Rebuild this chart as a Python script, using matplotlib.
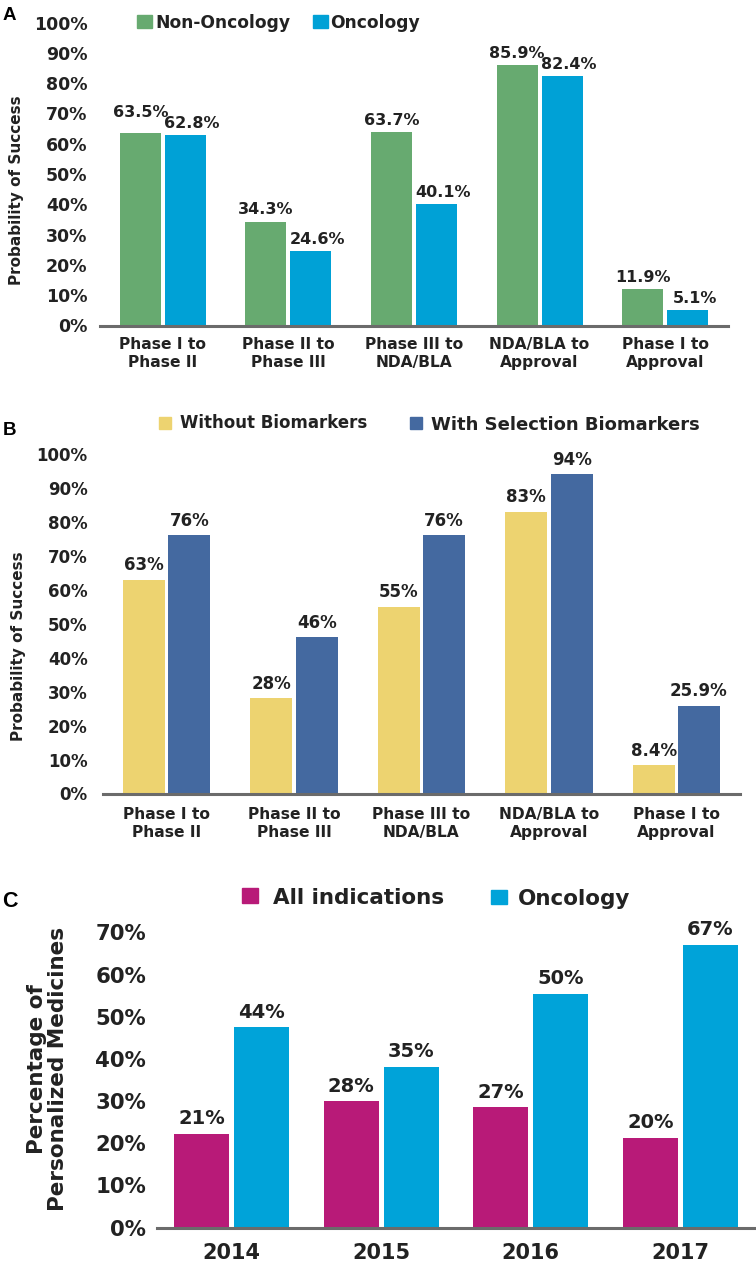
import numpy as np
import matplotlib
matplotlib.use("Agg")
import matplotlib.pyplot as plt
from matplotlib.patches import Rectangle

# panel A
phases = ["Phase I to\nPhase II", "Phase II to\nPhase III", "Phase III to\nNDA/BLA",
          "NDA/BLA to\nApproval", "Phase I to\nApproval"]
non_oncology = [63.5, 34.3, 63.7, 85.9, 11.9]
oncology = [62.8, 24.6, 40.1, 82.4, 5.1]

# panel B
without_bm = [63, 28, 55, 83, 8.4]
with_bm = [76, 46, 76, 94, 25.9]
without_bm_labels = ["63%", "28%", "55%", "83%", "8.4%"]
with_bm_labels = ["76%", "46%", "76%", "94%", "25.9%"]

# panel C (bar heights as drawn, labels as printed)
years = ["2014", "2015", "2016", "2017"]
all_ind = [22.2, 29.9, 28.5, 21.2]
onc_pm = [47.5, 38.2, 55.4, 67.0]
all_ind_labels = ["21%", "28%", "27%", "20%"]
onc_pm_labels = ["44%", "35%", "50%", "67%"]

GREEN, BLUE = "#67aa70", "#00a1d6"
YELLOW, NAVY = "#edd370", "#4469a0"
MAGENTA, CYAN = "#b81a78", "#00a3d9"
TXT = "#222222"

plt.rcParams["font.family"] = "DejaVu Sans"
plt.rcParams["font.weight"] = "bold"

W, H = 756, 1269
fig = plt.figure(figsize=(W / 100, H / 100), dpi=100)


def box(left, top, right, bottom):
    return [left / W, 1 - bottom / H, (right - left) / W, (bottom - top) / H]


def px(x, y):
    return x / W, 1 - y / H


def style(ax, ymax, step, ysize, ypad, xsize, xpad, ncat):
    for s in ["top", "right", "left"]:
        ax.spines[s].set_visible(False)
    ax.spines["bottom"].set_color("#6b6b6b")
    ax.spines["bottom"].set_linewidth(2.2)
    ax.set_ylim(0, ymax)
    ax.set_xlim(-0.5, ncat - 0.5)
    ticks = list(range(0, ymax + 1, step))
    ax.set_yticks(ticks)
    ax.set_yticklabels([f"{t}%" for t in ticks])
    ax.tick_params(axis="y", length=0, pad=ypad, labelsize=ysize, labelcolor=TXT)
    ax.tick_params(axis="x", length=0, pad=xpad, labelsize=xsize, labelcolor=TXT)
    ax.patch.set_visible(False)


def labels(ax, xs, hs, texts, size, dx=0, dy=5.5):
    for x, h, t in zip(xs, hs, texts):
        ax.annotate(t, (x, h), xytext=(dx, dy), textcoords="offset points",
                    ha="center", va="baseline", fontsize=size, color=TXT,
                    fontweight="bold")


def legend_item(x, y_top, w, h, color, text, tx, baseline, size):
    fig.add_artist(Rectangle(px(x, y_top + h), w / W, h / H, color=color,
                             transform=fig.transFigure))
    fig.text(*px(tx, baseline), text, fontsize=size, color=TXT,
             ha="left", va="baseline", fontweight="bold")


# ---- A ----
ax = fig.add_axes(box(100, 22.5, 728, 325.5))
x = np.arange(len(phases))
ax.bar(x - 0.179, non_oncology, 0.326, color=GREEN)
ax.bar(x + 0.179, oncology, 0.326, color=BLUE)
style(ax, 100, 10, 12.5, 9, 11.2, 8, len(phases))
ax.set_xticks(x)
ax.set_xticklabels(phases, linespacing=1.3)
lab_a = [f"{v}%" for v in non_oncology]
labels(ax, x[1:] - 0.179, non_oncology[1:], lab_a[1:], 11.5, dy=5.5)
labels(ax, x[:1] - 0.179, non_oncology[:1], lab_a[:1], 11.5, dy=11.5)
labels(ax, x + 0.179, oncology, [f"{v}%" for v in oncology], 11.5, dx=5, dy=5)
fig.text(*px(16.5, 190), "Probability of Success", rotation=90, ha="center",
         va="center", fontsize=11, color=TXT, fontweight="bold")
fig.text(*px(3, 20), "A", fontsize=13.5, fontweight="bold", color="black",
         family="Liberation Sans", va="baseline")
legend_item(137, 15, 15, 13, GREEN, "Non-Oncology", 155, 28.3, 12.3)
legend_item(313, 15, 15, 13, BLUE, "Oncology", 330, 28.3, 12.3)

# ---- B ----
ax = fig.add_axes(box(103, 454, 740, 793.5))
ax.bar(x - 0.178, without_bm, 0.33, color=YELLOW)
ax.bar(x + 0.178, with_bm, 0.33, color=NAVY)
style(ax, 100, 10, 12, 11, 11.2, 9.5, len(phases))
ax.set_xticks(x)
ax.set_xticklabels(phases, linespacing=1.3)
labels(ax, x - 0.178, without_bm, without_bm_labels, 12, dy=6.8)
labels(ax, x + 0.178, with_bm, with_bm_labels, 12, dy=6.8)
fig.text(*px(18.5, 646), "Probability of Success", rotation=90, ha="center",
         va="center", fontsize=11, color=TXT, fontweight="bold")
fig.text(*px(3, 435), "B", fontsize=13.5, fontweight="bold", color="black",
         family="Liberation Sans", va="baseline")
legend_item(159, 417, 12, 12, YELLOW, "Without Biomarkers", 180, 428.5, 12)
legend_item(410, 417, 12, 12, NAVY, "With Selection Biomarkers", 431, 430, 13)

# ---- C ----
ax = fig.add_axes(box(157, 932.5, 755, 1227.5))
xc = np.arange(len(years))
ax.bar(xc - 0.2, all_ind, 0.366, color=MAGENTA)
ax.bar(xc + 0.2, onc_pm, 0.366, color=CYAN)
style(ax, 70, 10, 15.3, 8, 15, 11.5, len(years))
ax.set_xticks(xc)
ax.set_xticklabels(years)
labels(ax, xc - 0.2, all_ind, all_ind_labels, 14, dy=7)
labels(ax, xc + 0.2, onc_pm, onc_pm_labels, 14, dy=7)
fig.text(*px(47.5, 1069), "Percentage of\nPersonalized Medicines", rotation=90,
         ha="center", va="center", fontsize=15.5, color=TXT, fontweight="bold",
         multialignment="center", linespacing=1.1)
fig.text(*px(2, 907), "C", fontsize=15.5, fontweight="bold", color="black",
         family="Liberation Sans", va="baseline")
legend_item(242, 888, 16, 15, MAGENTA, "All indications", 273, 904, 15.5)
legend_item(491, 890, 16, 14, CYAN, "Oncology", 518, 905, 15.5)

fig.savefig("out.png", dpi=100)
